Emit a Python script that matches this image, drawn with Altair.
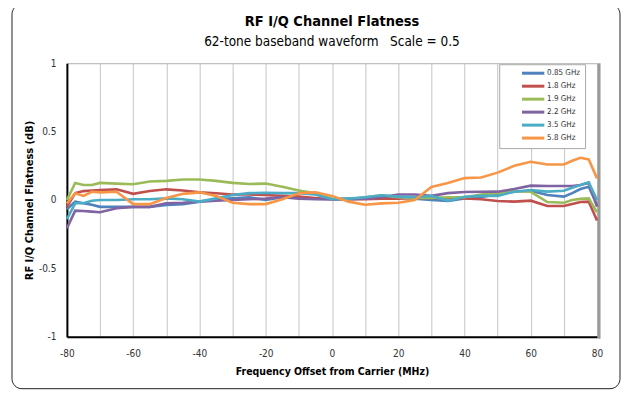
import altair as alt
import pandas as pd

FONT = "'DejaVu Sans Condensed', 'Liberation Sans Narrow', 'Arial Narrow', sans-serif"

series_names = ["0.85 GHz", "1.8 GHz", "1.9 GHz", "2.2 GHz", "3.5 GHz", "5.8 GHz"]
series_colors = ["#4F81BD", "#C0504D", "#9BBB59", "#8064A2", "#4BACC6", "#F79646"]

freq = [-80, -77.5, -75, -72.5, -70, -65, -60, -55, -50, -45, -40, -35, -30, -25,
        -20, -15, -10, -5, 0, 5, 10, 15, 20, 25, 30, 35, 40, 45, 50, 55, 60, 65,
        70, 72.5, 75, 77.5, 80]

ghz_085 = [-0.068, -0.012, -0.024, -0.035, -0.05, -0.05, -0.05, -0.05, -0.036, -0.03,
           -0.012, 0.005, 0.012, 0.02, 0.0, 0.02, 0.02, 0.01, 0.005, 0.01, 0.015, 0.015,
           0.02, 0.01, 0.0, -0.007, 0.012, 0.02, 0.045, 0.06, 0.068, 0.036, 0.025, 0.05,
           0.08, 0.097, -0.036]
ghz_18 = [-0.05, 0.05, 0.065, 0.07, 0.073, 0.078, 0.045, 0.066, 0.078, 0.07, 0.056,
          0.049, 0.04, 0.04, 0.036, 0.03, 0.025, 0.015, 0.005, 0.005, 0.005, 0.01, 0.01,
          0.015, 0.015, 0.015, 0.012, 0.005, -0.007, -0.012, -0.005, -0.044, -0.044,
          -0.03, -0.015, -0.012, -0.15]
ghz_19 = [0.0, 0.125, 0.11, 0.11, 0.125, 0.12, 0.115, 0.135, 0.14, 0.15, 0.15, 0.14,
          0.125, 0.117, 0.12, 0.097, 0.07, 0.05, 0.01, 0.005, 0.02, 0.035, 0.02, 0.015,
          0.015, 0.02, 0.02, 0.04, 0.05, 0.065, 0.06, -0.015, -0.02, 0.0, 0.008, 0.012,
          -0.09]
ghz_22 = [-0.207, -0.078, -0.08, -0.085, -0.09, -0.06, -0.05, -0.05, -0.024, -0.02,
          -0.012, -0.005, 0.0, 0.005, 0.01, 0.02, 0.01, 0.005, 0.005, 0.005, 0.01, 0.02,
          0.04, 0.04, 0.03, 0.05, 0.058, 0.06, 0.061, 0.08, 0.105, 0.102, 0.102, 0.102,
          0.11, 0.126, -0.049]
ghz_35 = [-0.14, -0.024, -0.024, -0.005, 0.0, 0.0, 0.005, 0.005, 0.012, 0.005, -0.012,
          0.012, 0.036, 0.05, 0.053, 0.05, 0.05, 0.04, 0.005, 0.01, 0.02, 0.035, 0.025,
          0.02, 0.03, -0.005, 0.024, 0.03, 0.03, 0.061, 0.073, 0.061, 0.068, 0.09, 0.11,
          0.129, 0.0]
ghz_58 = [-0.025, 0.05, 0.03, 0.06, 0.056, 0.06, -0.03, -0.03, 0.015, 0.045, 0.056, 0.03,
          -0.02, -0.03, -0.03, 0.005, 0.049, 0.056, 0.03, -0.012, -0.035, -0.025, -0.02,
          0.0, 0.095, 0.125, 0.16, 0.165, 0.2, 0.25, 0.28, 0.26, 0.26, 0.287, 0.309,
          0.297, 0.158]

x_ticks = list(range(-80, 81, 10))
y_ticks = [-1, -0.5, 0, 0.5, 1]

all_values = [ghz_085, ghz_18, ghz_19, ghz_22, ghz_35, ghz_58]
rows = []
for name, vals in zip(series_names, all_values):
    for f, v in zip(freq, vals):
        rows.append({"series": name, "freq": f, "value": v})
df = pd.DataFrame(rows)

lines = alt.Chart(df).mark_line(strokeWidth=2.6).encode(
    x=alt.X("freq:Q", scale=alt.Scale(domain=[-80, 80], nice=False),
            axis=alt.Axis(values=x_ticks,
                          labelExpr="datum.value % 20 == 0 ? '' + datum.value : ''",
                          title="Frequency Offset from Carrier (MHz)",
                          grid=True, gridColor="#c4c4c4", gridWidth=1,
                          domainColor="black", domainWidth=2, ticks=False,
                          labelFlush=False, labelPadding=12, titlePadding=8,
                          titleFontSize=10.5)),
    y=alt.Y("value:Q", scale=alt.Scale(domain=[-1, 1], nice=False),
            axis=alt.Axis(values=y_ticks, labelExpr="'' + datum.value",
                          title="RF I/Q Channel Flatness (dB)",
                          grid=False, domainColor="black", domainWidth=2,
                          ticks=False, labelFlush=False, labelPadding=11,
                          titlePadding=4)),
    color=alt.Color("series:N",
                    scale=alt.Scale(domain=series_names, range=series_colors),
                    legend=alt.Legend(orient="none", legendX=433, legendY=1, title=None,
                                      symbolType="M-3.2,0H3.2", symbolSize=49,
                                      symbolStrokeWidth=3, labelFontSize=8,
                                      labelFont=FONT, labelColor="#333333",
                                      labelExpr="datum.label + '\u00a0\u00a0\u00a0\u00a0\u00a0'",
                                      rowPadding=1, padding=4, strokeColor="#aaaaaa",
                                      fillColor="white", symbolOffset=25,
                                      labelOffset=9)),
)

frame = alt.Chart(pd.DataFrame({"k": [0]})).mark_rect(
    fill="transparent", stroke="#222222", strokeWidth=1, cornerRadius=10
).encode(x=alt.value(-55), x2=alt.value(554), y=alt.value(-59), y2=alt.value(326))

shadow = alt.Chart(pd.DataFrame({"k": [0]})).mark_rule(
    stroke="#9a9a9a", strokeWidth=3
).encode(x=alt.value(533), y=alt.value(0), y2=alt.value(276))

chart = alt.layer(frame, shadow, lines).properties(
    width=531, height=274,
    padding={"left": 59, "top": 55, "right": 26, "bottom": 56},
    autosize=alt.AutoSizeParams(type="none"),
    background="white",
    title=alt.TitleParams(text="RF I/Q Channel Flatness",
                          subtitle="62-tone baseband waveform\u00a0\u00a0\u00a0Scale = 0.5",
                          font=FONT, fontSize=14.5, fontWeight="bold", color="black",
                          subtitleFont=FONT, subtitleFontSize=13.5, subtitleColor="black",
                          anchor="middle", offset=-46, subtitlePadding=6),
).configure_view(stroke="#b0b0b0", strokeWidth=1).configure_axis(
    labelFont=FONT, labelFontSize=10, labelColor="#333333",
    titleFont=FONT, titleFontSize=11, titleFontWeight="bold", titleColor="black",
)

chart.save("out.html", embed_options={"renderer": "svg", "actions": False})
